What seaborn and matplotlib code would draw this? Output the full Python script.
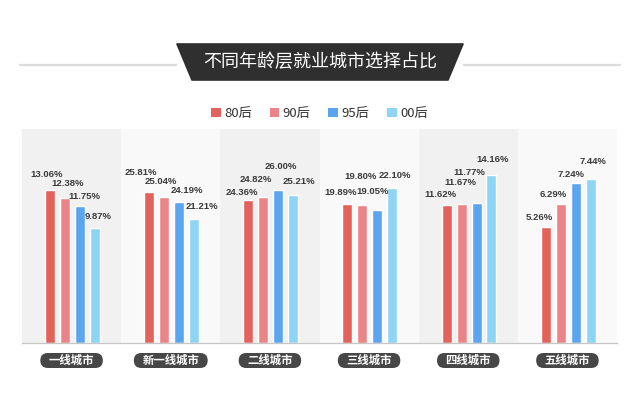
import numpy as np
import pandas as pd
import matplotlib
matplotlib.use("Agg")
import matplotlib.pyplot as plt
import seaborn as sns
from matplotlib.patches import Polygon, FancyBboxPatch, Patch
from matplotlib.lines import Line2D
from matplotlib.transforms import IdentityTransform

# ---------------- data ----------------
title = "不同年龄层就业城市选择占比"
cities = ["一线城市", "新一线城市", "二线城市", "三线城市", "四线城市", "五线城市"]
generations = ["80后", "90后", "95后", "00后"]
share_80 = [13.06, 25.81, 24.36, 19.89, 11.62, 5.26]
share_90 = [12.38, 25.04, 24.82, 19.80, 11.67, 6.29]
share_95 = [11.75, 24.19, 26.00, 19.05, 11.77, 7.24]
share_00 = [9.87, 21.21, 25.21, 22.10, 14.16, 7.44]

# ---------------- style / layout ----------------
colors = ["#e4625c", "#ea8486", "#5ba4f0", "#8ed4f4"]
panel_colors = ["#f1f1f1", "#f9f9f9"]
# each city panel has its own vertical scale (as in the original)
y_top = [18.3, 36.6, 36.4, 30.6, 18.0, 9.7]
# label offsets (pixels) from bar top
label_dx = [[-3, 3, 5, 3], [-8, -3, 8, 8], [-6, -7, 3, 6],
            [-7, -2, -5, 3], [-6, -1, -7, 1], [-6, -7, -5, 2]]
label_dy = [[16, 15, 9, 11], [20, 15, 11, 12], [7, 18, 24, 13],
            [11, 28, 18, 13], [10, 22, 31, 15], [9, 10, 9, 17]]

rows = []
for i, c in enumerate(cities):
    for g, s in zip(generations, [share_80, share_90, share_95, share_00]):
        rows.append({"city": c, "gen": g, "value": s[i]})
df = pd.DataFrame(rows)

sns.set_theme(style="white")
plt.rcParams["font.family"] = ["Noto Sans CJK SC", "DejaVu Sans"]

W, H = 640, 393
fig = plt.figure(figsize=(W / 100, H / 100), dpi=100)
fig.patch.set_facecolor("white")

def fx(x):
    return x / W

def fy(y):
    return 1 - y / H

left, right, top, base = 22, 617, 129, 343
pw = (right - left) / len(cities)
unit = 15.0  # px between bar centres
half = pw / unit / 2

for i, c in enumerate(cities):
    ax = fig.add_axes([fx(left + i * pw), fy(base), pw / W, (base - top) / H])
    sub = df[df["city"] == c]
    sns.barplot(data=sub, x="gen", y="value", hue="gen", order=generations,
                hue_order=generations, palette=colors, saturation=1,
                width=10 / unit, legend=False, errorbar=None, ax=ax)
    ax.set_facecolor(panel_colors[i % 2])
    ax.set_xlim(1.5 - half - 0.05, 1.5 + half - 0.05)
    ax.set_ylim(0, y_top[i])
    for s in ["top", "left", "right"]:
        ax.spines[s].set_visible(False)
    ax.spines["bottom"].set_color("#c6c6c6")
    ax.spines["bottom"].set_linewidth(0.9)
    ax.set_xticks([])
    ax.set_yticks([])
    ax.set_xlabel("")
    ax.set_ylabel("")
    bars = sorted(ax.patches, key=lambda p: p.get_x())
    for j, p in enumerate(bars):
        v = p.get_height()
        ax.annotate(f"{v:.2f}%", xy=(p.get_x() + p.get_width() / 2, v),
                    xytext=(label_dx[i][j], label_dy[i][j]),
                    textcoords="offset pixels", ha="center", va="center",
                    fontsize=6.8, fontweight="bold", color="#3a3a3a",
                    family=["Liberation Sans", "DejaVu Sans"],
                    annotation_clip=False)

# title banner
fig.add_artist(Line2D([fx(20), fx(176)], [fy(65), fy(65)], color="#dcdcdc", lw=1.6))
fig.add_artist(Line2D([fx(464), fx(620)], [fy(65), fy(65)], color="#dcdcdc", lw=1.6))
fig.add_artist(Polygon([(fx(177), fy(44)), (fx(463), fy(44)), (fx(448), fy(80)), (fx(192), fy(80))],
                       closed=True, fc="#2f2f2f", ec="#2f2f2f", lw=1.2, joinstyle="round"))
fig.text(fx(320), fy(62), title, ha="center", va="center", color="white",
         fontsize=13, fontweight="medium", zorder=5)

# legend
handles = [Patch(facecolor=c, edgecolor="none", label=g) for g, c in zip(generations, colors)]
leg = fig.legend(handles=handles, loc="center", bbox_to_anchor=(fx(319.5), fy(113.5)),
                 ncol=4, frameon=False, fontsize=9.5, handlelength=0.75, handleheight=0.68,
                 handletextpad=0.25, columnspacing=1.35, borderpad=0)
for t in leg.get_texts():
    t.set_color("#333333")

# city pills
pill_texts = []
for i, c in enumerate(cities):
    cx = left + (i + 0.5) * pw
    t = fig.text(fx(cx), fy(360.5), c, ha="center", va="center", color="white",
                 fontsize=8.2, fontweight="bold", zorder=6)
    pill_texts.append((t, cx))

fig.canvas.draw()
r = fig.canvas.get_renderer()
for t, cx in pill_texts:
    bb = t.get_window_extent(r)
    w = bb.width + 17
    h = 15
    yc = H - 360.5
    p = FancyBboxPatch((cx - w / 2 + 7.5, yc - h / 2 + 7.5), w - 15, h - 15,
                       boxstyle="round,pad=7.5", fc="#474747", ec="none",
                       transform=IdentityTransform(), zorder=4)
    fig.add_artist(p)
    p.set_transform(IdentityTransform())

fig.savefig("out.png", dpi=100)
